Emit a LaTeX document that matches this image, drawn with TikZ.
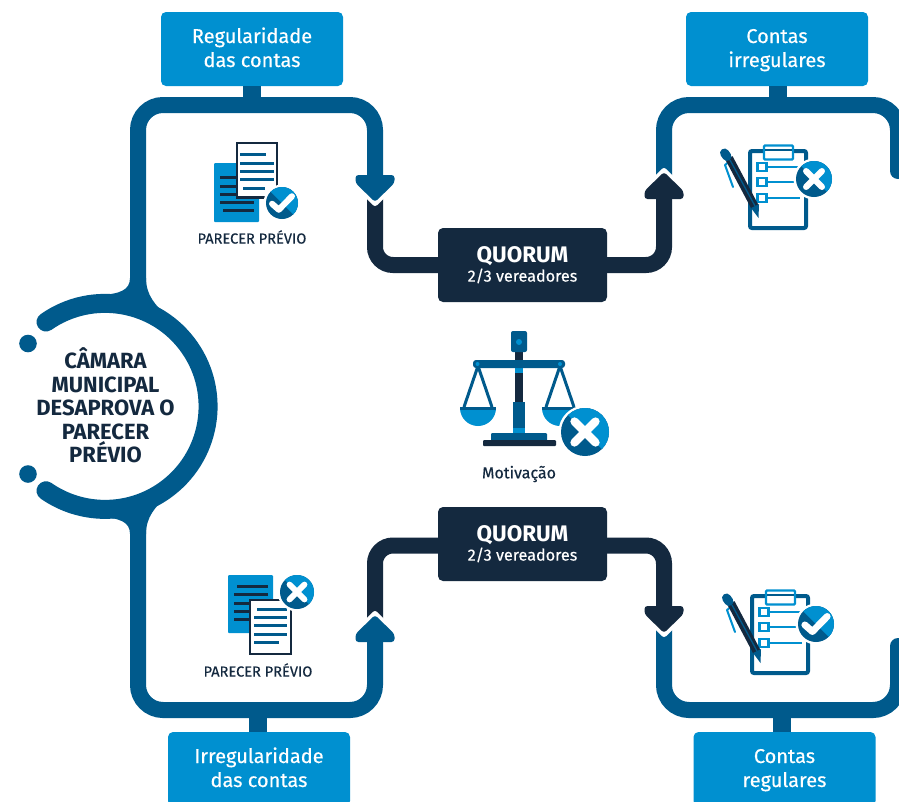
\documentclass[tikz,border=0pt]{standalone}
\usepackage{fontspec}
\setmainfont{Fira Sans}
\newfontfamily\medfont{Fira Sans}[FakeBold=0.35]
\definecolor{pipe}{HTML}{005A8C}
\definecolor{sky}{HTML}{0090D0}
\definecolor{ink}{HTML}{14293F}
\tikzset{
  pipeline/.style={draw=pipe,line width=16pt,line cap=round,rounded corners=25pt},
  darkline/.style={draw=ink,line width=16pt,rounded corners=18pt},
  stub/.style={draw=pipe,line width=18pt},
  bluebox/.style={fill=sky,rounded corners=5pt,minimum width=182pt,minimum height=74pt,inner sep=0pt,
    text=white,align=center,font=\fontsize{20}{24}\medfont},
  quorum/.style={fill=ink,rounded corners=5pt,minimum width=169pt,minimum height=74pt,inner sep=0pt,
    text=white,align=center},
  caption/.style={text=ink,inner sep=0pt,font=\fontsize{14.6}{17}\medfont},
  txtline/.style={line width=3pt},
}
\newcommand\boxlines[2]{\rule{0pt}{20pt}#1\\#2\rule[-8pt]{0pt}{0pt}}
\newcommand\quorumtext{{\fontsize{22.5}{22}\selectfont\bfseries QUORUM}\\[1.5pt]{\fontsize{16.2}{18}\medfont 2/3 vereadores}}
\newcommand\flowhead[4]{% x, tip y, direction (1 down, -1 up), colour
  \begin{scope}[shift={(#1,#2)},yscale=#3]
    \draw[white,line width=6pt,line join=round] (-20,-19) -- (0,1) -- (20,-19);
    \fill[#4,rounded corners=3pt] (-19.5,-27) -- (19.5,-27) -- (19.5,-19) -- (0,0) -- (-19.5,-19) -- cycle;
  \end{scope}}
\newcommand\iconbase[3]{% x, y, r
  \fill[white] (#1,#2) circle[radius=#3+2.5];
  \fill[pipe] (#1,#2) circle[radius=#3];
  \begin{scope}[shift={(#1,#2)},scale=#3]
    \fill[sky] (-135:1) arc[start angle=-135,end angle=45,radius=1] -- cycle;
  \end{scope}}
\newcommand\checkbadge[3]{\iconbase{#1}{#2}{#3}
  \begin{scope}[shift={(#1,#2)},scale=#3]
    \draw[white,line width=0.38*#3 pt,line cap=round,line join=round] (-.62,.05) -- (-.2,.42) -- (.62,-.42);
  \end{scope}}
\newcommand\crossbadge[3]{\iconbase{#1}{#2}{#3}
  \begin{scope}[shift={(#1,#2)},scale=#3]
    \draw[white,line width=0.34*#3 pt,line cap=round] (-.44,-.44) -- (.44,.44) (-.44,.44) -- (.44,-.44);
  \end{scope}}
\newcommand\boardicon[2]{%
  \begin{scope}[shift={(#1,#2)}]
    \draw[pipe,line width=4pt,fill=white,rounded corners=2pt] (750,151) rectangle (806,228);
    \draw[sky,line width=2.4pt,fill=white,rounded corners=1pt] (764,145.5) rectangle (793,159.5);
    \draw[pipe,line width=1.5pt] (765,150) -- (792,150);
    \foreach \yy in {167,182,198} {
      \draw[sky,line width=2.4pt,fill=white] (757.5,\yy-4) rectangle (766.5,\yy+4);
      \draw[sky,line width=2.2pt] (768,\yy) -- (800,\yy);
    }
    \draw[sky,line width=2pt,line cap=round] (725,165) -- (733,187);
    \draw[sky,line width=2pt] (725,165) -- (731,160);
    \draw[ink,line width=8pt] (729,158) -- (755,207);
    \draw[pipe,line width=1.3pt] (730,160) -- (755,206);
    \fill[pipe] (751,208) -- (759,204) -- (758.5,218) -- cycle;
    \draw[pipe,line width=9pt,line cap=round] (724.5,153) -- (727,156.5);
  \end{scope}}
\newcommand\panicon[1]{%
  \draw[pipe,line width=3pt] (#1-14,407) -- (#1,366) -- (#1+14,407);
  \fill[sky] (#1-18,408) arc[start angle=180,end angle=0,radius=18] -- cycle;
  \fill[pipe] (#1-18,406.5) rectangle (#1+18,409.5);
}
\begin{document}
\begin{tikzpicture}[x=1pt,y=-1pt]
\path[use as bounding box,fill=white] (0,0) rectangle (899,801);
\clip (0,0) rectangle (899,801);

% nodes
\node[bluebox] (boxA) at (252,49) {\boxlines{Regularidade}{das contas}};
\node[bluebox] (boxB) at (777,49) {\boxlines{Contas}{irregulares}};
\node[bluebox] (boxC) at (259,769) {\boxlines{Irregularidade}{das contas}};
\node[bluebox] (boxD) at (784.5,769) {\boxlines{Contas}{regulares}};
\node[quorum] (qA) at (522.5,265) {\quorumtext};
\node[quorum] (qB) at (522.5,544) {\quorumtext};

\coordinate (hubTop) at (138,300);
\coordinate (hubBot) at (138,512);
\coordinate (tipA) at (375,195);
\coordinate (tipB) at (664,180);
\coordinate (tipC) at (375,622);
\coordinate (tipD) at (664,630);
\coordinate (endB) at (898,171);
\coordinate (endD) at (898,646);
\coordinate (railA) at (252,105);
\coordinate (railB) at (778,105);
\coordinate (railC) at (258,710);
\coordinate (railD) at (782,710);

% dark connectors
\draw[darkline] (qA.west) -| (tipA);
\draw[darkline] (qA.east) -| (tipB);
\draw[darkline] ([yshift=-1.5pt]qB.west) -| (375,625);
\draw[darkline] ([yshift=-1.5pt]qB.east) -| (664,610);

% blue rails
\draw[stub] (railA |- boxA.south) -- (railA);
\draw[stub] (railB |- boxB.south) -- (railB);
\draw[stub] (railC |- boxC.north) -- (railC);
\draw[stub] (railD |- boxD.north) -- (railD);
\draw[pipeline] (hubTop) -- (138,105) -- (375,105) -- (tipA);
\draw[pipeline] (hubBot) -- (138,710) -- (375,710) -- (tipC);
\draw[pipeline] (tipB) -- (664,105) -- (898,105) -- (endB);
\draw[pipeline] (tipD) -- (664,710) -- (898,710) -- (endD);

% arrow heads
\flowhead{375}{202}{1}{pipe}
\flowhead{664}{172}{-1}{ink}
\flowhead{375}{615}{-1}{pipe}
\flowhead{664}{633}{1}{ink}

% hub ring
\draw[pipe,line width=19pt,line cap=round] (46,322) arc[start angle=-125,end angle=125,radius=103];
\fill[pipe] (130,278) .. controls (130,290) and (120,294) .. (100,295) -- (108,302) -- (160,322) -- (168,317) .. controls (155,305) and (146,295) .. (146,278) -- cycle;
\fill[pipe] (130,534) .. controls (130,522) and (120,518) .. (100,517) -- (108,510) -- (160,490) -- (168,495) .. controls (155,507) and (146,517) .. (146,534) -- cycle;
\fill[pipe] (28,343.5) circle[radius=8.8];
\fill[pipe] (28,474) circle[radius=8.8];
\node[text=ink,align=center,inner sep=0pt,font=\fontsize{22}{23.6}\selectfont\bfseries] (cam) at (105.5,405.5) {CÂMARA\\MUNICIPAL\\DESAPROVA O\\PARECER\\PRÉVIO};

% upper document icon
\fill[sky,rounded corners=1pt] (214,163) rectangle (259,222);
\foreach \yy/\xa/\xb in {177/220/236,186/220/236,194/220/236,202/220/254,210/223/254}
  \draw[ink,txtline] (\xa,\yy) -- (\xb,\yy);
\draw[ink,line width=2.5pt,fill=white] (237,143) rectangle (277,197.5);
\foreach \yy/\xa/\xb in {154/240/266,163/240/274,171/240/274,179/240/274,188/243/265}
  \draw[pipe,txtline] (\xa,\yy) -- (\xb,\yy);
\checkbadge{282}{203}{16}
\node[caption] (capA) at (252,237) {PARECER PRÉVIO};

% lower document icon
\fill[sky,rounded corners=1pt] (228,575) rectangle (273,633);
\foreach \yy/\xa/\xb in {586/237/268,594/234/268,603/234/249,611/234/249,619/234/249}
  \draw[ink,txtline] (\xa,\yy) -- (\xb,\yy);
\draw[ink,line width=2.5pt,fill=white] (250,600) rectangle (291,654);
\foreach \yy/\xa/\xb in {609/257/287,617/254/287,625/254/287,634/254/287,642/254/279}
  \draw[pipe,txtline] (\xa,\yy) -- (\xb,\yy);
\crossbadge{297}{592}{17}
\node[caption] (capB) at (258,670) {PARECER PRÉVIO};

% clipboards
\boardicon{0}{0}
\crossbadge{814}{179}{18}
\boardicon{2}{445}
\checkbadge{816}{624}{18}

% scales
\fill[ink] (515,350) rectangle (523,402);
\fill[sky] (515,368) rectangle (523,373);
\fill[pipe,rounded corners=2pt] (511,331) rectangle (527,352);
\fill[sky] (519,342) circle[radius=3];
\panicon{478}
\panicon{560}
\fill[pipe,rounded corners=3pt] (473,360) rectangle (565,368);
\fill[sky] (477.5,364) circle[radius=2];
\fill[sky] (560,364) circle[radius=2];
\fill[pipe] (513,402) rectangle (525,433);
\fill[sky] (513,428) rectangle (525,433);
\fill[pipe,rounded corners=1pt] (491,433) rectangle (547,441);
\fill[ink,rounded corners=1pt] (483,440) rectangle (556,446);
\crossbadge{585}{432}{24}
\node[text=ink,inner sep=0pt,font=\fontsize{16}{18}\medfont] (mot) at (519,474) {Motivação};
\end{tikzpicture}
\end{document}
